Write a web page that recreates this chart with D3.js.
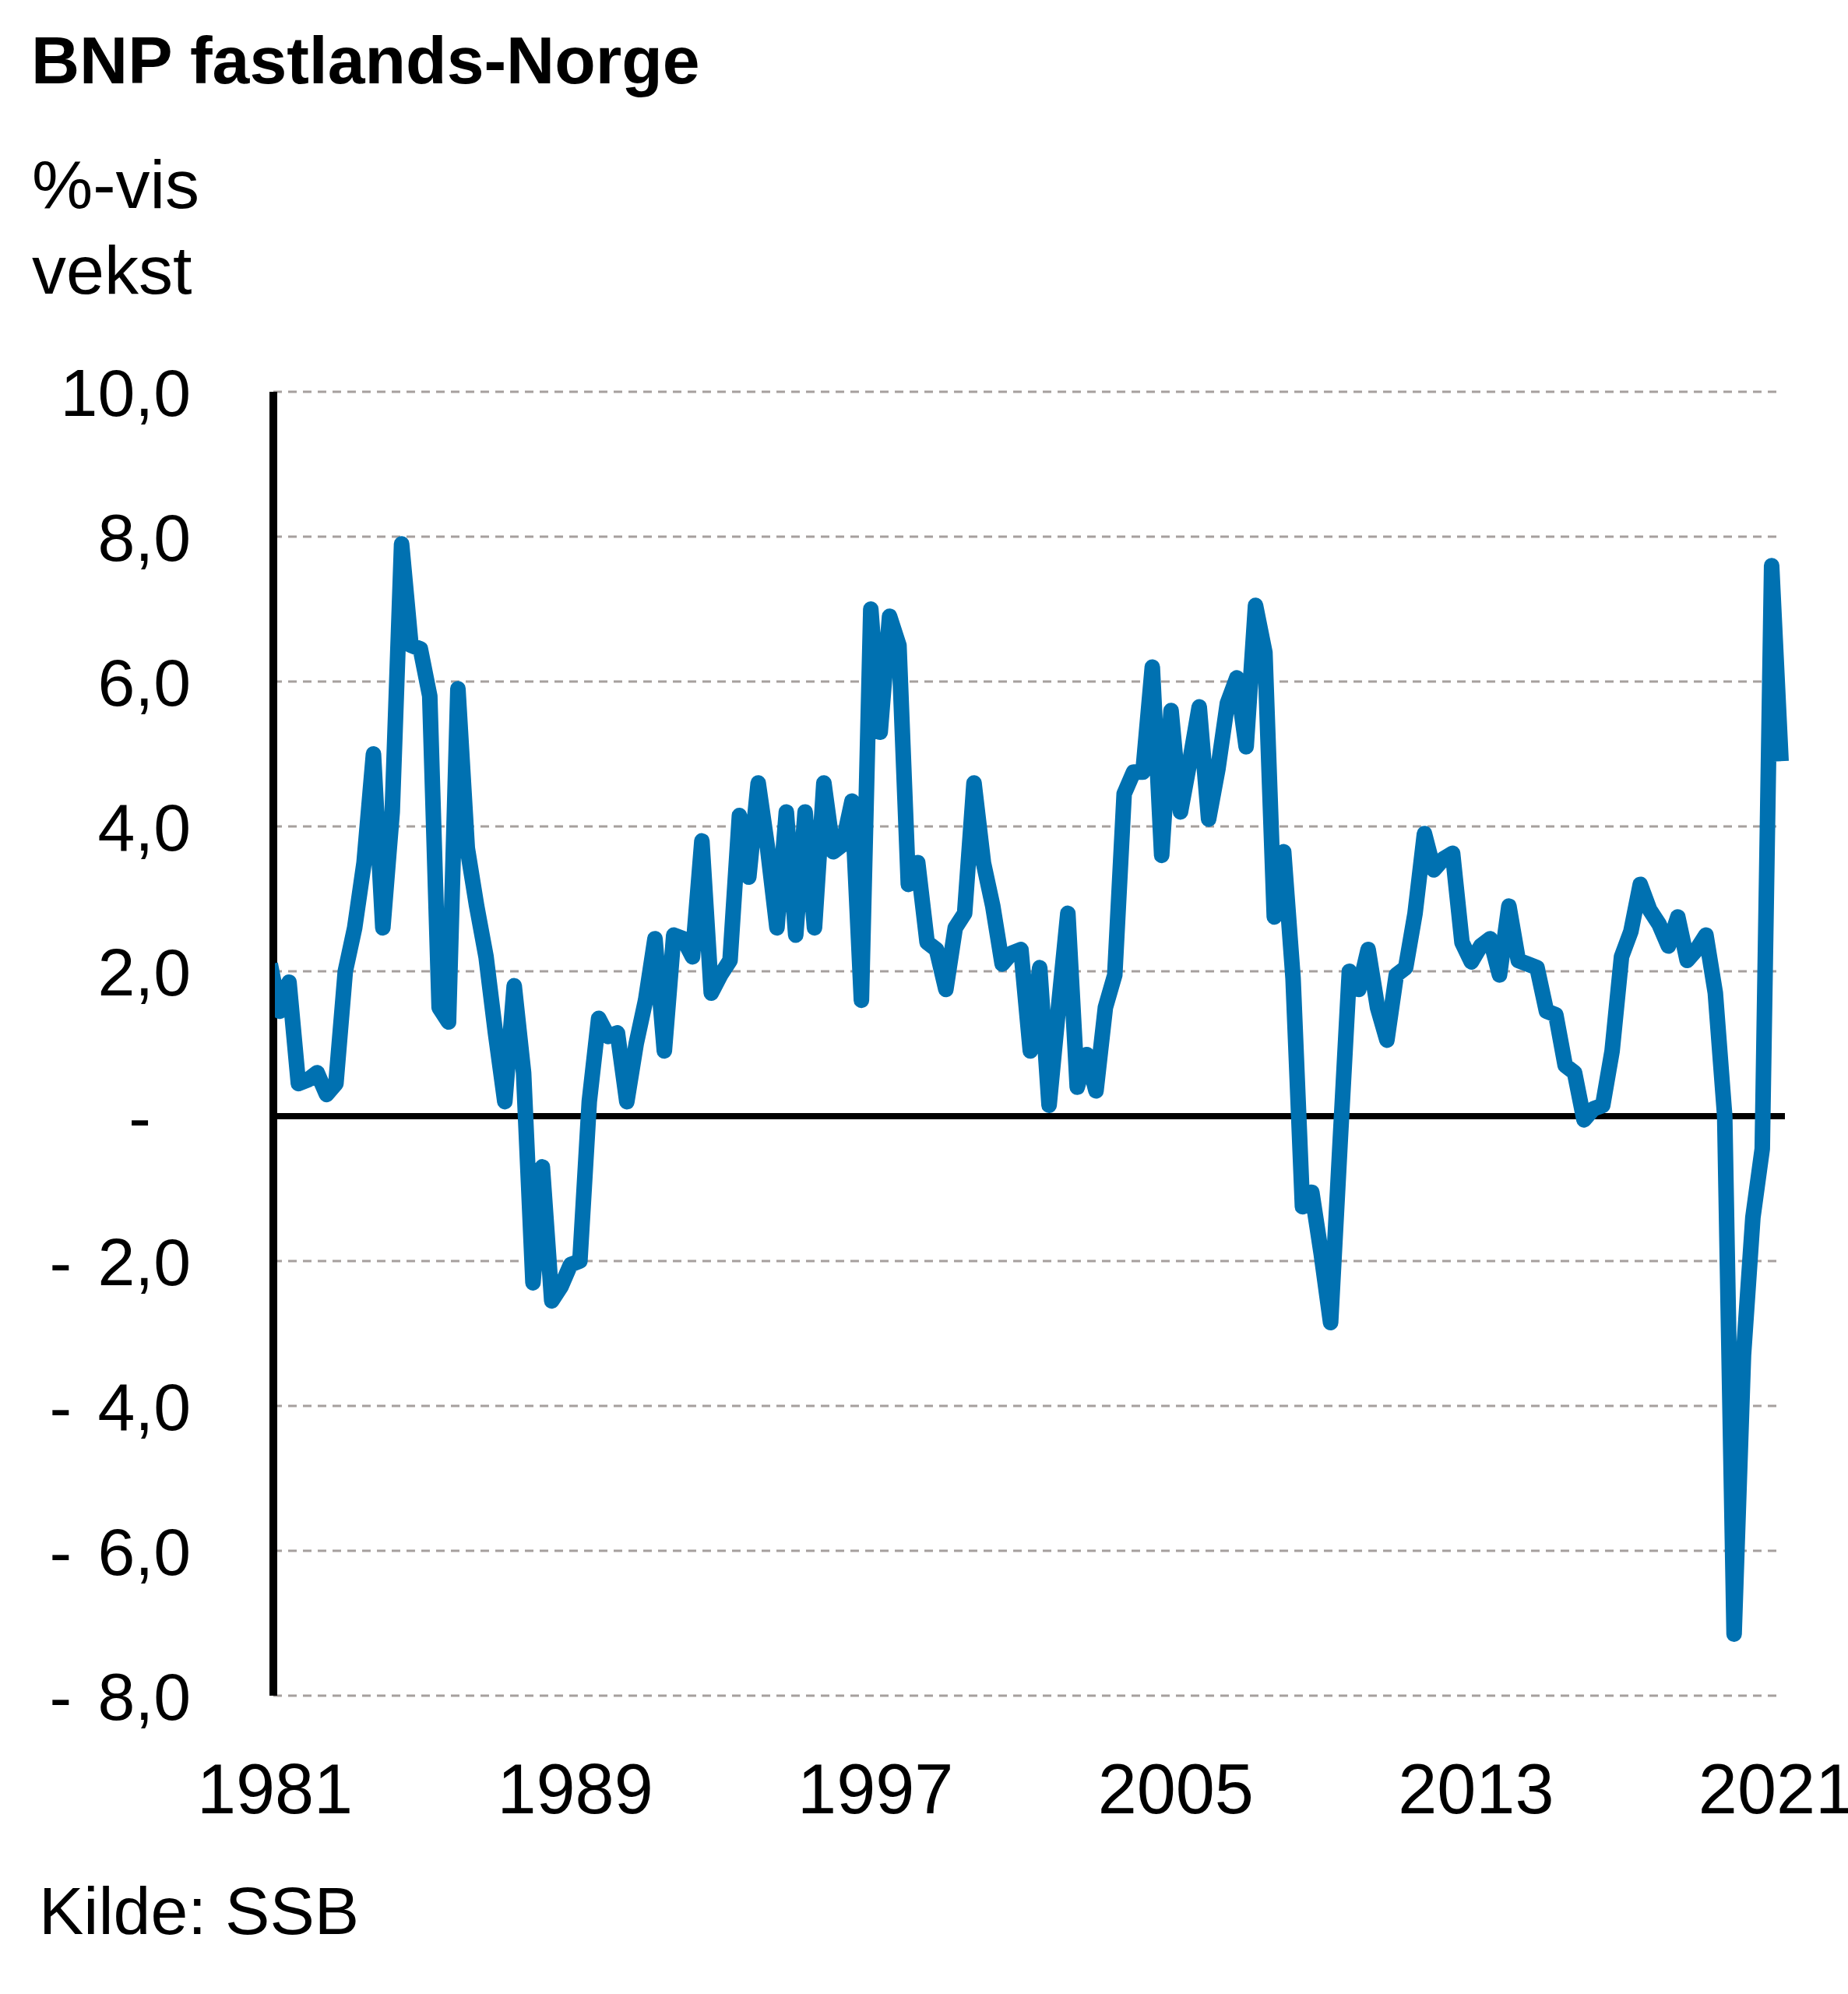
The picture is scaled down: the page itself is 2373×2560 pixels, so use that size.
<!DOCTYPE html>
<html>
<head>
<meta charset="utf-8">
<script src="https://cdn.jsdelivr.net/npm/d3@7"></script>
<style>
  html, body { margin: 0; padding: 0; background: #ffffff; }
  svg { display: block; }
  text { font-family: "Liberation Sans", Arial, sans-serif; fill: #000; }
</style>
</head>
<body>
<svg id="chart" width="2373" height="2560"></svg>
<script>
// ---- data ----
const title = "BNP fastlands-Norge";
const unitLines = ["%-vis", "vekst"];
const source = "Kilde: SSB";
const yearLabels = [1981, 1989, 1997, 2005, 2013, 2021];
const yTicks = [-8, -6, -4, -2, 0, 2, 4, 6, 8, 10];
// quarterly year-on-year growth, %
const growth = [
  2.1, 1.45, 1.85, 0.45, 0.5, 0.6, 0.3, 0.45, 2.0, 2.6,
  3.5, 5.0, 2.6, 4.2, 7.9, 6.5, 6.45, 5.8, 1.5, 1.3,
  5.9, 3.7, 2.9, 2.2, 1.15, 0.2, 1.8, 0.6, -2.3, -0.7,
  -2.55, -2.35, -2.05, -2.0, 0.2, 1.35, 1.1, 1.15, 0.2, 1.0,
  1.6, 2.45, 0.9, 2.5, 2.45, 2.2, 3.8, 1.7, 1.95, 2.15,
  4.15, 3.3, 4.6, 3.7, 2.6, 4.2, 2.5, 4.2, 2.6, 4.6,
  3.65, 3.75, 4.35, 1.6, 7.0, 5.3, 6.9, 6.5, 3.2, 3.5,
  2.4, 2.3, 1.75, 2.6, 2.8, 4.6, 3.5, 2.9, 2.1, 2.25,
  2.3, 0.9, 2.05, 0.15, 1.5, 2.8, 0.4, 0.85, 0.35, 1.5,
  1.95, 4.45, 4.75, 4.75, 6.2, 3.6, 5.6, 4.2, 4.9, 5.65,
  4.1, 4.8, 5.7, 6.05, 5.1, 7.05, 6.4, 2.75, 3.65, 1.9,
  -1.25, -1.05, -1.9, -2.85, -0.4, 2.0, 1.75, 2.3, 1.5, 1.05,
  1.95, 2.05, 2.8, 3.9, 3.4, 3.55, 3.63, 2.4, 2.13, 2.35,
  2.45, 1.95, 2.9, 2.15, 2.1, 2.05, 1.45, 1.4, 0.7, 0.6,
  -0.05, 0.1, 0.15, 0.9, 2.2, 2.55, 3.2, 2.85, 2.65, 2.35,
  2.75, 2.15, 2.3, 2.5, 1.7, 0.0, -7.15, -3.3, -1.4, -0.45,
  7.6, 4.9
];
const quartersPerLabel = 32;

// ---- layout ----
const svg = d3.select("#chart");
const axisX = 351;
const x = d3.scaleLinear().domain([0, growth.length - 1]).range([347, 2287]);
const y = d3.scaleLinear().domain([-8, 10]).range([2177, 503]);
const gridRight = 2288;

// gridlines
svg.append("g").selectAll("line")
  .data(yTicks.filter(d => d !== 0))
  .join("line")
  .attr("x1", axisX).attr("x2", gridRight)
  .attr("y1", d => y(d)).attr("y2", d => y(d))
  .attr("stroke", "#a6a09e")
  .attr("stroke-width", 3)
  .attr("stroke-dasharray", "11,8");

// zero line
svg.append("line")
  .attr("x1", axisX).attr("x2", 2292)
  .attr("y1", y(0)).attr("y2", y(0))
  .attr("stroke", "#000").attr("stroke-width", 8);

// vertical axis line
svg.append("line")
  .attr("x1", axisX).attr("x2", axisX)
  .attr("y1", y(10)).attr("y2", y(-8))
  .attr("stroke", "#000").attr("stroke-width", 10);

// clip for series
svg.append("defs").append("clipPath").attr("id", "plotclip")
  .append("rect").attr("x", 353).attr("y", 0).attr("width", 2373 - 353).attr("height", 2560);

const line = d3.line().x((d, i) => x(i)).y(d => y(d));
svg.append("path")
  .datum(growth)
  .attr("clip-path", "url(#plotclip)")
  .attr("d", line)
  .attr("fill", "none")
  .attr("stroke", "#0071b1")
  .attr("stroke-width", 20)
  .attr("stroke-linejoin", "round")
  .attr("stroke-linecap", "butt");

// y tick labels
const fmt = v => Math.abs(v).toFixed(1).replace(".", ",");
const yl = svg.append("g").attr("font-size", 86);
yTicks.forEach(v => {
  const t = yl.append("text")
    .attr("text-anchor", "end")
    .attr("y", y(v))
    .attr("dy", "0.36em");
  if (v === 0) {
    t.append("tspan").attr("x", 194).text("-");
  } else if (v < 0) {
    t.append("tspan").attr("x", 116).text("- ");
    t.append("tspan").attr("x", 245).text(fmt(v));
  } else {
    t.append("tspan").attr("x", 245).text(fmt(v));
  }
});

// x tick labels
svg.append("g").selectAll("text")
  .data(yearLabels)
  .join("text")
  .attr("x", (d, k) => x(k * quartersPerLabel + 0.5))
  .attr("y", 2328)
  .attr("text-anchor", "middle")
  .attr("font-size", 90)
  .text(d => d);

// title, unit, source
svg.append("text").attr("x", 40).attr("y", 107)
  .attr("font-size", 86).attr("font-weight", "bold").text(title);
svg.append("g").selectAll("text")
  .data(unitLines).join("text")
  .attr("x", 41).attr("y", (d, i) => 267 + i * 110)
  .attr("font-size", 88).text(d => d);
svg.append("text").attr("x", 50).attr("y", 2483)
  .attr("font-size", 86).text(source);
</script>
</body>
</html>
